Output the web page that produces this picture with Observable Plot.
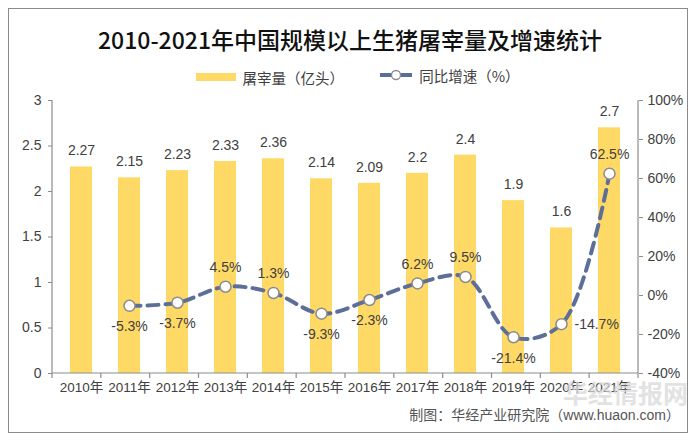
<!DOCTYPE html>
<html><head><meta charset="utf-8">
<script src="https://cdn.jsdelivr.net/npm/d3@7"></script>
<script src="https://cdn.jsdelivr.net/npm/@observablehq/plot@0.6"></script>
<style>
html,body{margin:0;padding:0;background:#fff;width:700px;height:443px;overflow:hidden;}
#frame{position:absolute;left:8px;top:8px;width:680px;height:425px;border:1.5px solid #8a8a8a;box-sizing:border-box;}
#title{position:absolute;left:0;top:22px;width:700px;text-align:center;font-family:"Noto Sans CJK SC",sans-serif;font-size:23px;font-weight:500;color:#111;}
#legend{position:absolute;left:0;top:64px;width:700px;text-align:center;font-family:"Noto Sans CJK SC",sans-serif;font-size:14.5px;color:#404040;}
#legend span{display:inline-flex;align-items:center;margin:0 16px;}
#chart{position:absolute;left:0;top:90px;}
#footer{position:absolute;right:20px;top:404px;font-family:"Liberation Sans","Noto Sans CJK SC",sans-serif;font-size:14px;color:#555;}
#wm{position:absolute;left:563px;top:374px;font-family:"Noto Sans CJK SC",sans-serif;font-size:25px;font-weight:700;color:#d9d9d9;opacity:0.75;}
</style></head>
<body>
<div id="frame"></div>
<div id="title">2010-2021年中国规模以上生猪屠宰量及增速统计</div>
<div id="legend">
 <span><span style="display:inline-block;width:40px;height:8px;background:#FFD966;margin-right:6px"></span>屠宰量（亿头）</span>
 <span><svg width="34" height="12" style="margin-right:6px"><line x1="1" y1="6" x2="33" y2="6" stroke="#5B6E98" stroke-width="4"/><circle cx="17" cy="6" r="4.5" fill="#fff" stroke="#8c8c8c" stroke-width="1.3"/></svg>同比增速（%）</span>
</div>
<div id="chart"></div>
<div id="wm">华经情报网</div>
<div id="footer">制图：华经产业研究院（www.huaon.com）</div>
<script>
const years = ["2010年","2011年","2012年","2013年","2014年","2015年","2016年","2017年","2018年","2019年","2020年","2021年"];
const slaughter = [2.27,2.15,2.23,2.33,2.36,2.14,2.09,2.2,2.4,1.9,1.6,2.7];
const growth = [null,-5.3,-3.7,4.5,1.3,-9.3,-2.3,6.2,9.5,-21.4,-14.7,62.5];
const leftTicks = [0,0.5,1,1.5,2,2.5,3];
const rightTicks = [-40,-20,0,20,40,60,80,100];

const toY = p => (p + 40) / 140 * 3;
const fromY = v => v / 3 * 140 - 40;

const bars = years.map((y,i)=>({year:y, v:slaughter[i]}));
const line = years.map((y,i)=>({year:y, g:growth[i]})).filter(d=>d.g!==null);
const rightLabel = "2020年";
const above = line.filter(d=>d.g>=0);
const below = line.filter(d=>d.g<0 && d.year!==rightLabel);
const side = line.filter(d=>d.year===rightLabel);

const axisLines = (index, scales, values, dims) => {
  const {x, y} = scales;
  const [r0, r1] = x.range();
  const y0 = y(0), y3 = y(3);
  const g = d3.create("svg:g").attr("stroke","#8c8c8c").attr("stroke-width",1.2).attr("fill","none");
  g.append("line").attr("x1",r0).attr("x2",r0).attr("y1",y0).attr("y2",y3);
  g.append("line").attr("x1",r1).attr("x2",r1).attr("y1",y0).attr("y2",y3);
  g.append("line").attr("x1",r0).attr("x2",r1).attr("y1",y0).attr("y2",y0);
  const n = x.domain().length;
  for (let i=0;i<=n;i++){
    const xx = r0 + i*(r1-r0)/n;
    g.append("line").attr("x1",xx).attr("x2",xx).attr("y1",y0).attr("y2",y0+5);
  }
  return g.node();
};

const font = "'Liberation Sans','Noto Sans CJK SC',sans-serif";
const chart = Plot.plot({
  width:700, height:313,
  marginLeft:52, marginRight:62, marginTop:10, marginBottom:30,
  style:{fontFamily:font, fontSize:"13px", color:"#404040", background:"transparent"},
  x:{domain:years, paddingInner:0.55, paddingOuter:0.275, label:null},
  y:{domain:[0,3], label:null},
  marks:[
    Plot.barY(bars,{x:"year", y:"v", fill:"#FFD966"}),
    Plot.text(bars,{x:"year", y:"v", text:d=>String(d.v), dy:-16, fill:"#404040", fontSize:14}),
    Plot.line(line,{x:"year", y:d=>toY(d.g), curve:"catmull-rom", stroke:"#5D6F99", strokeWidth:4, strokeDasharray:"11,7"}),
    Plot.dot(line,{x:"year", y:d=>toY(d.g), r:5.5, fill:"#fff", stroke:"#8c8c8c", strokeWidth:1.5}),
    Plot.text(above,{x:"year", y:d=>toY(d.g), text:d=>d.g.toFixed(1)+"%", dy:-19, fill:"#404040", fontSize:14}),
    Plot.text(below,{x:"year", y:d=>toY(d.g), text:d=>d.g.toFixed(1)+"%", dy:21, fill:"#404040", fontSize:14}),
    Plot.text(side,{x:"year", y:d=>toY(d.g), text:d=>d.g.toFixed(1)+"%", dx:13, textAnchor:"start", fill:"#404040", fontSize:14}),
    axisLines,
    Plot.axisY({anchor:"left", ticks:leftTicks, tickFormat:d=>String(d), tickSize:4, tickPadding:7, label:null, fontSize:14, stroke:"#8c8c8c"}),
    Plot.axisY(rightTicks.map(toY), {anchor:"right", tickFormat:d=>Math.round(fromY(d))+"%", tickSize:4, tickPadding:5, label:null, fontSize:14, stroke:"#8c8c8c"}),
    Plot.axisX({tickSize:0, tickPadding:9, label:null, fontSize:13.5})
  ]
});
document.getElementById("chart").appendChild(chart);
</script>
</body></html>
